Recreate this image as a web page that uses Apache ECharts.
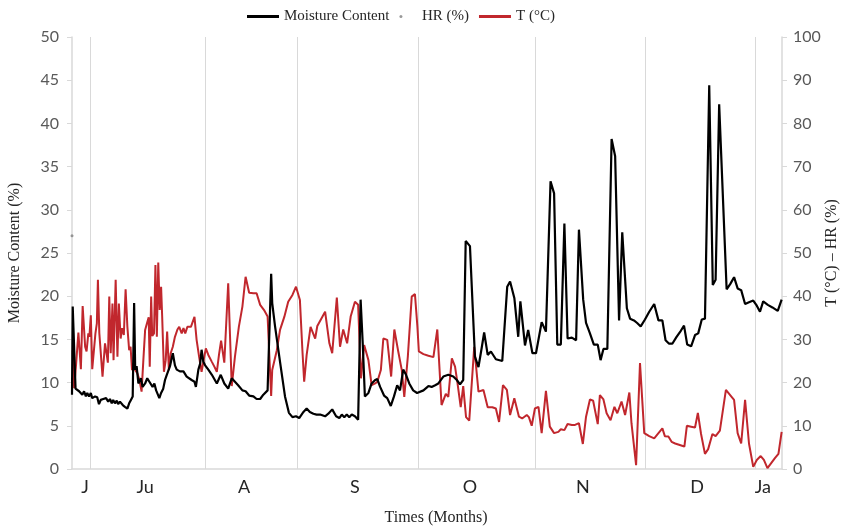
<!DOCTYPE html>
<html>
<head>
<meta charset="utf-8">
<script src="https://cdn.jsdelivr.net/npm/echarts@6/dist/echarts.min.js"></script>
<style>
  html, body { margin: 0; padding: 0; background: #fff; }
  #chart { width: 843px; height: 529px; }
</style>
</head>
<body>
<div id="chart"></div>
<script>
// x = measurement day (0..200), y = value
var monthNames = ['J', 'Ju', 'A', 'S', 'O', 'N', 'D', 'Ja'];
var monthLabelDays = [3.7, 20.6, 48.5, 79.7, 112.1, 143.9, 176.1, 194.6];
var monthStartDays = [5.1, 37.5, 63.4, 97.5, 130.4, 161.4, 192.4];

var moisture = [
  [0,8.6],[0.2,18.8],[0.7,18.6],[1.0,9.3],[2.0,9.0],[2.5,9.1],[2.9,8.6],[3.4,9.0],[3.9,8.4],[4.3,8.8],
  [4.8,8.4],[5.3,8.8],[5.7,8.2],[6.5,8.4],[7.1,8.3],[7.6,7.5],[8.1,8.0],[8.8,8.1],[9.6,8.2],[10.2,7.8],
  [10.7,8.1],[11.2,7.6],[11.6,8.0],[12.1,7.6],[12.6,7.9],[13.0,7.5],[13.5,7.8],[14.3,7.4],[14.9,7.2],[15.6,7.0],
  [16.1,7.6],[16.6,8.0],[17.1,8.4],[17.5,19.2],[17.8,11.5],[18.2,11.9],[18.7,9.9],[19.4,10.5],[19.9,9.5],[20.6,9.9],
  [21.2,10.5],[21.8,10.1],[22.3,10.3],[22.7,9.5],[23.2,9.9],[23.7,9.1],[24.1,9.3],[24.6,8.2],[25.1,8.8],[25.7,9.3],
  [26.2,10.3],[26.7,10.9],[27.1,10.7],[27.6,11.9],[28.4,13.4],[29.0,12.0],[29.5,11.5],[30.4,11.3],[31.4,11.3],[32.3,10.7],
  [32.8,10.7],[33.7,10.3],[34.5,10.1],[34.9,9.5],[35.6,11.5],[36.1,12.2],[36.5,13.8],[37.0,12.4],[37.5,12.0],[38.4,11.5],
  [39.4,10.9],[40.8,9.9],[41.9,10.9],[42.9,9.9],[44.0,9.3],[45.0,10.5],[45.9,10.1],[46.8,9.7],[48.0,9.1],[48.9,9.0],
  [49.9,8.5],[51.1,8.4],[52.0,8.1],[53.0,8.1],[53.9,8.6],[55.1,9.1],[56.1,22.6],[56.4,19.2],[57.2,16.5],[58.6,12.4],
  [60.0,8.4],[61.1,6.5],[62.1,6.0],[63.1,6.1],[64.0,5.9],[65.2,6.6],[66.1,7.0],[67.0,6.6],[68.0,6.4],[68.9,6.3],
  [69.9,6.3],[71.3,6.1],[72.2,6.4],[73.3,6.9],[74.4,6.1],[75.3,5.9],[76.0,6.3],[76.7,6.0],[77.4,6.3],[78.1,6.0],
  [78.8,6.3],[79.7,6.1],[80.6,5.7],[81.3,19.6],[81.9,14.5],[82.5,8.4],[83.5,8.8],[84.4,9.9],[85.4,10.3],[86.0,10.4],
  [86.8,9.5],[87.9,8.5],[88.8,8.2],[89.8,7.3],[90.7,8.4],[91.6,9.7],[92.4,9.1],[93.3,11.5],[94.1,10.9],[95.0,9.9],
  [96.1,9.1],[97.2,8.8],[97.7,8.7],[99.0,9.1],[100.4,9.6],[101.3,9.5],[102.3,9.7],[103.2,9.9],[104.6,10.7],[106.0,10.9],
  [107.4,10.7],[108.4,10.3],[109.3,9.8],[110.2,10.3],[110.9,26.4],[112.1,25.8],[113.5,13.0],[114.5,11.8],[115.4,14.0],[116.1,15.8],
  [117.1,13.2],[118.0,13.6],[119.4,12.7],[121.2,12.5],[122.6,21.1],[123.4,21.7],[124.6,19.8],[125.7,15.3],[126.3,19.4],[127.6,14.3],
  [128.5,16.1],[129.7,13.4],[130.7,13.4],[132.3,17.0],[133.5,15.9],[134.8,33.3],[135.8,31.9],[136.7,14.4],[137.7,14.4],[138.7,28.4],
  [139.6,15.1],[140.8,15.2],[142.0,14.9],[142.8,27.7],[144.0,19.6],[144.8,16.9],[145.9,15.7],[147.0,14.4],[148.1,14.4],[148.9,12.6],
  [149.7,13.9],[150.8,13.9],[152.0,38.2],[153.0,36.2],[154.1,17.2],[155.0,27.4],[156.3,18.6],[157.2,17.4],[158.3,17.2],[159.2,16.9],
  [160.2,16.5],[161.4,17.3],[162.6,18.2],[164.0,19.1],[165.2,17.2],[166.3,17.2],[167.2,14.9],[168.2,14.5],[169.1,14.5],[170.3,15.3],
  [171.5,16.0],[172.4,16.6],[173.3,14.4],[174.4,14.2],[175.5,15.5],[176.4,15.7],[177.4,17.3],[178.3,17.4],[179.5,44.4],[180.5,21.3],
  [181.3,21.9],[182.3,42.2],[184.4,20.8],[185.4,21.4],[186.5,22.2],[187.5,20.9],[188.5,20.7],[189.6,19.1],[190.7,19.3],[191.9,19.5],
  [192.9,18.9],[193.8,18.2],[194.7,19.4],[196.0,19.0],[197.3,18.7],[198.8,18.3],[199.9,19.6]
];

var humidity = [[0, 54]];

var temperature = [
  [0.2,27.5],[0.6,18.7],[1.1,23.7],[1.8,31.6],[2.5,23.1],[3.0,37.7],[3.7,28.3],[4.1,27.2],[4.6,31.4],[4.9,30.6],
  [5.3,35.6],[5.7,23.1],[6.2,22.7],[6.6,31.4],[7.0,33.7],[7.3,43.8],[7.7,31.4],[8.2,31.0],[8.6,21.4],[9.3,29.1],
  [9.8,26.4],[10.1,24.6],[10.5,39.9],[10.9,26.8],[11.4,38.3],[11.7,25.2],[12.3,43.8],[12.8,26.0],[13.2,38.3],[13.7,30.2],
  [14.1,32.6],[14.6,31.0],[15.1,41.6],[15.6,32.9],[16.1,27.5],[16.5,28.3],[16.9,22.9],[17.3,24.5],[17.8,22.9],[18.4,22.2],
  [19.0,20.6],[19.6,17.9],[20.1,25.2],[20.6,32.2],[21.1,33.7],[21.6,35.1],[21.9,23.7],[22.3,39.9],[22.6,30.8],[23.1,31.4],
  [23.5,47.2],[23.9,30.6],[24.3,47.8],[24.7,36.8],[25.1,42.2],[25.4,35.3],[25.9,22.5],[26.4,25.2],[26.8,31.8],[27.3,22.9],
  [27.8,26.8],[28.4,28.3],[29.0,30.6],[29.7,32.3],[30.2,32.9],[30.9,31.4],[31.4,32.6],[31.9,31.4],[32.5,32.9],[33.5,32.9],
  [34.5,35.2],[35.1,29.9],[35.8,26.0],[36.5,22.5],[37.0,24.8],[37.7,27.9],[38.4,26.4],[39.4,24.8],[40.1,23.7],[40.8,22.5],
  [41.4,26.4],[42.0,29.7],[42.9,24.6],[44.0,43.0],[45.0,19.2],[45.9,26.0],[47.0,32.9],[48.0,37.6],[48.9,44.5],[49.9,40.8],
  [51.1,40.7],[52.0,40.7],[53.0,38.0],[54.1,36.8],[55.1,35.3],[56.1,16.9],[56.4,22.9],[57.7,27.5],[58.6,32.2],[59.8,35.2],
  [60.9,38.7],[62.1,40.3],[63.1,42.2],[64.2,39.1],[64.9,27.5],[65.4,20.2],[66.1,26.4],[67.2,32.9],[68.5,30.2],[69.1,33.1],
  [70.3,34.9],[71.3,36.4],[72.5,29.1],[73.3,26.8],[74.6,39.7],[75.5,28.3],[76.4,32.3],[77.5,29.1],[78.5,35.3],[79.7,38.7],
  [80.6,38.0],[81.4,21.0],[82.3,28.7],[83.5,25.2],[84.4,19.4],[85.4,19.8],[86.0,20.2],[87.0,22.9],[87.7,30.2],[88.8,29.9],
  [89.9,21.4],[90.8,32.3],[91.9,27.2],[92.9,22.9],[93.6,16.7],[94.6,26.0],[95.7,39.9],[96.6,40.5],[97.3,32.9],[97.7,27.2],
  [99.0,26.6],[100.4,26.2],[101.8,25.9],[102.9,32.3],[104.1,14.8],[105.3,17.4],[106.0,16.7],[107.0,25.6],[107.9,23.7],[108.6,19.8],
  [109.5,14.3],[110.2,19.2],[111.0,12.0],[111.9,11.2],[113.3,28.3],[114.5,17.9],[115.9,18.3],[117.1,14.3],[118.4,14.3],[119.4,14.0],
  [120.3,10.9],[121.4,19.4],[122.5,18.3],[123.4,12.5],[124.6,16.4],[125.9,12.1],[126.8,11.7],[128.1,12.5],[128.7,12.0],[129.5,10.0],
  [130.4,14.0],[131.4,14.4],[132.3,8.3],[133.5,18.1],[134.6,9.8],[135.8,8.3],[137.0,8.6],[137.7,9.2],[138.7,9.0],[139.6,10.4],
  [140.8,10.2],[141.7,10.2],[142.8,10.6],[143.9,5.8],[144.8,12.1],[145.9,16.1],[146.8,15.8],[148.1,10.4],[148.7,17.1],[149.7,16.1],
  [150.6,12.9],[151.7,11.3],[152.8,14.4],[153.6,12.9],[154.8,15.6],[155.8,12.5],[157.0,17.7],[157.6,10.6],[158.9,0.9],[160.0,24.5],
  [161.2,8.3],[162.6,7.6],[164.0,7.1],[165.2,8.3],[166.3,9.4],[167.0,7.6],[168.0,7.5],[168.9,6.3],[169.9,5.9],[172.5,5.2],
  [173.2,10.0],[174.4,9.8],[175.5,9.6],[176.3,13.0],[177.2,8.1],[178.3,3.5],[179.2,4.6],[180.4,8.1],[181.3,7.6],[182.5,8.9],
  [184.2,18.3],[185.4,17.1],[186.5,16.0],[187.5,8.3],[188.5,5.9],[189.6,16.0],[190.7,5.9],[191.9,0.5],[192.9,2.1],[194.0,3.0],
  [194.9,2.1],[195.9,0.2],[196.9,1.3],[198.0,2.5],[199.0,3.5],[199.9,8.6]
];

var chart = echarts.init(document.getElementById('chart'), null, { renderer: 'canvas' });

var gridGray = '#d9d9d9';
var labelFont = 'Lato, "Open Sans", sans-serif';
var titleFont = '"Liberation Serif", "DejaVu Serif", serif';

chart.setOption({
  animation: false,
  backgroundColor: '#fff',
  legend: {
    top: 4,
    left: 242,
    itemWidth: 32,
    itemHeight: 3,
    itemGap: 10,
    textStyle: { fontFamily: titleFont, fontSize: 15, color: '#262626' },
    data: [
      { name: 'Moisture Content', icon: 'rect' },
      { name: 'HR (%)', icon: 'circle' },
      { name: 'T (°C)', icon: 'rect' }
    ]
  },
  grid: { left: 72, right: 61, top: 37, bottom: 60, outerBoundsMode: 'none', containLabel: false },
  xAxis: {
    type: 'value',
    min: 0,
    max: 200,
    name: 'Times (Months)',
    nameLocation: 'middle',
    nameGap: 41,
    nameMoveOverlap: false,
    nameTextStyle: { fontFamily: titleFont, fontSize: 16, color: '#262626', padding: [0, 0, 0, 18] },
    axisLine: { show: true, lineStyle: { color: gridGray, width: 1.5 } },
    axisTick: { show: false, customValues: monthStartDays },
    splitLine: { show: true, lineStyle: { color: gridGray, width: 1 } },
    axisLabel: {
      customValues: monthLabelDays,
      margin: 9,
      fontFamily: labelFont,
      fontSize: 18,
      color: '#262626',
      formatter: function (v) {
        var i = monthLabelDays.indexOf(v);
        return i >= 0 ? monthNames[i] : '';
      }
    }
  },
  yAxis: [
    {
      type: 'value',
      min: 0,
      max: 50,
      interval: 5,
      name: 'Moisture Content (%)',
      nameLocation: 'middle',
      nameRotate: 90,
      nameGap: 49,
      nameMoveOverlap: false,
      nameTextStyle: { fontFamily: titleFont, fontSize: 16, color: '#262626' },
      axisLine: { show: true, lineStyle: { color: gridGray, width: 1.5 } },
      axisTick: { show: true, length: 5, lineStyle: { color: gridGray } },
      splitLine: { show: false },
      axisLabel: { margin: 13, fontFamily: labelFont, fontSize: 16, color: '#595959' }
    },
    {
      type: 'value',
      min: 0,
      max: 100,
      interval: 10,
      name: 'T (°C) – HR (%)',
      nameLocation: 'middle',
      nameRotate: 90,
      nameGap: 42,
      nameMoveOverlap: false,
      nameTextStyle: { fontFamily: titleFont, fontSize: 16, color: '#262626' },
      axisLine: { show: true, lineStyle: { color: gridGray, width: 1.5 } },
      axisTick: { show: true, length: 5, lineStyle: { color: gridGray } },
      splitLine: { show: false },
      axisLabel: { margin: 11, fontFamily: labelFont, fontSize: 16, color: '#595959' }
    }
  ],
  series: [
    {
      name: 'Moisture Content',
      type: 'line',
      yAxisIndex: 0,
      data: moisture,
      symbol: 'none',
      z: 3,
      lineStyle: { color: '#000000', width: 2.2 },
      itemStyle: { color: '#000000' }
    },
    {
      name: 'HR (%)',
      type: 'scatter',
      yAxisIndex: 1,
      data: humidity,
      symbolSize: 3,
      itemStyle: { color: '#7f7f7f' }
    },
    {
      name: 'T (°C)',
      type: 'line',
      yAxisIndex: 1,
      data: temperature,
      symbol: 'none',
      z: 2,
      lineStyle: { color: '#c1272d', width: 2 },
      itemStyle: { color: '#c1272d' }
    }
  ]
});
</script>
</body>
</html>
